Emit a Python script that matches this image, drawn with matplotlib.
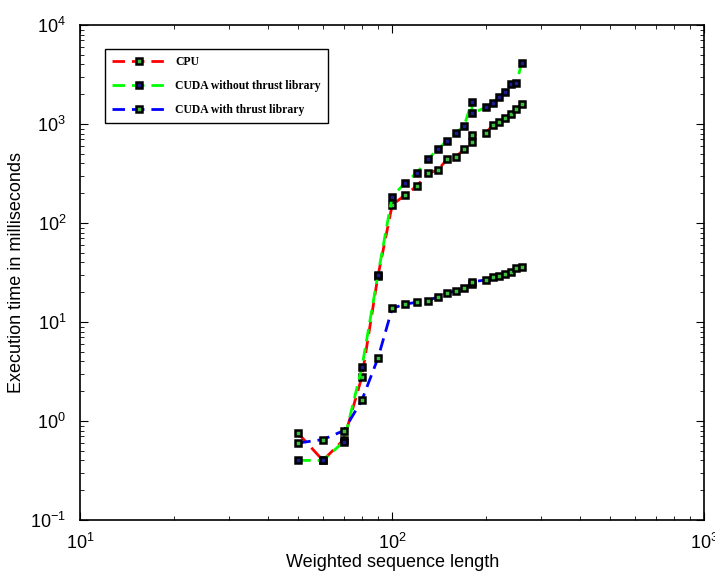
import matplotlib
matplotlib.use("Agg")
import matplotlib.pyplot as plt

# sequence lengths (180 appears twice in the measurements)
lengths = [50, 60, 70, 80, 90, 100, 110, 120, 130, 140, 150, 160, 170,
           180, 180, 200, 210, 220, 230, 240, 250, 260]

cpu_ms = [0.75, 0.4, 0.65, 2.8, 29, 152, 192, 236, 318, 343, 440, 467, 555,
          662, 774, 817, 977, 1055, 1142, 1262, 1407, 1592]
cuda_no_thrust_ms = [0.4, 0.4, 0.62, 3.5, 30, 184, 255, 322, 440, 555, 678, 817, 955,
                     1680, 1282, 1475, 1641, 1888, 2120, 2535, 2577, 4160]
cuda_thrust_ms = [0.6, 0.65, 0.8, 1.63, 4.3, 13.7, 15.2, 15.8, 16.4, 18.0, 19.5, 20.7, 22.2,
                  24.0, 25.5, 26.6, 28.3, 29.2, 30.6, 32.2, 34.9, 36.3]

labels = ['CPU', 'CUDA without thrust library', 'CUDA with thrust library']

plt.rcParams['font.family'] = ['Liberation Sans', 'DejaVu Sans']

fig = plt.figure(figsize=(7.15, 5.86), dpi=100)
ax = fig.add_axes([0.112, 0.1126, 0.873, 0.8447])

series = [
    (cpu_ms, 'red', '#3fbf3f'),
    (cuda_no_thrust_ms, 'lime', '#1c1c8c'),
    (cuda_thrust_ms, 'blue', '#3fbf3f'),
]
for (vals, lc, fc), lab in zip(series, labels):
    ax.plot(lengths, vals, linestyle=(0, (4.5, 2.5)), color=lc, linewidth=2,
            marker='s', markersize=5, markerfacecolor=fc,
            markeredgecolor='black', markeredgewidth=1.8, label=lab)

ax.set_xscale('log')
ax.set_yscale('log')
ax.set_xlim(10, 1000)
ax.set_ylim(0.1, 10000)

ax.tick_params(which='both', direction='in', top=True, right=True)
ax.tick_params(which='major', length=6, labelsize=13)
ax.tick_params(axis='y', which='major', pad=10)
ax.tick_params(axis='x', which='major', pad=9)
ax.tick_params(which='minor', length=3)
for s in ax.spines.values():
    s.set_linewidth(1.2)

ax.set_xlabel('Weighted sequence length', fontsize=13, labelpad=1)
ax.set_ylabel('Execution time in milliseconds', fontsize=13, labelpad=4)

leg = ax.legend(loc='upper left', bbox_to_anchor=(0.04, 0.952), borderaxespad=0,
                fancybox=False, edgecolor='black', framealpha=1, handlelength=4.6,
                prop={'family': 'Liberation Serif', 'size': 8.4, 'weight': 'bold'},
                borderpad=0.6, labelspacing=1.05)
leg.get_frame().set_linewidth(1.0)

fig.savefig('out.png', dpi=100)
